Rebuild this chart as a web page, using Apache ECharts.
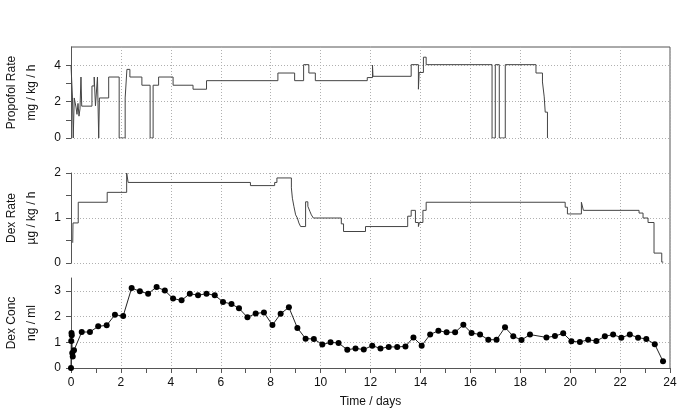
<!DOCTYPE html>
<html><head><meta charset="utf-8">
<script src="https://cdn.jsdelivr.net/npm/echarts@6/dist/echarts.min.js"></script>
<style>html,body{margin:0;padding:0;background:#fff}#c{width:685px;height:411px}</style>
</head><body><div id="c"></div><script>
// ---- data ----
const propofolTime = [0, 0.06, 0.09, 0.13, 0.2, 0.24, 0.28, 0.32, 0.36, 0.4, 0.43, 0.84, 0.93, 0.98, 1.06, 1.11, 1.14, 1.51, 1.93, 2.17, 2.24, 2.36, 2.84, 3.17, 3.29, 3.51, 4.09, 4.89, 5.43, 8.29, 8.96, 9.32, 9.53, 9.79, 11.87, 12.08, 12.1, 13.63, 13.92, 13.95, 14.12, 14.23, 16.87, 17.0, 17.16, 17.4, 18.63, 18.89, 18.96, 19.0, 19.09];
const propofolRate = [4.0, 2.2, 0, 2.2, 1.7, 1.3, 1.9, 1.2, 1.6, 3.35, 1.75, 2.86, 3.35, 1.77, 3.35, 0, 2.2, 3.35, 0, 2.2, 3.77, 3.35, 2.9, 0, 2.9, 3.35, 2.9, 2.68, 3.15, 3.57, 3.15, 4.03, 3.57, 3.15, 3.32, 4.0, 3.39, 4.03, 2.68, 3.6, 4.44, 4.03, 0, 4.03, 0, 4.03, 3.57, 3.08, 2.26, 1.42, 0];

const dexRateTime = [0.07, 0.08, 0.29, 1.45, 2.23, 2.29, 7.19, 8.16, 8.25, 8.83, 8.87, 8.93, 9.0, 9.07, 9.13, 9.2, 9.4, 9.49, 9.57, 9.63, 9.71, 10.83, 10.92, 11.8, 13.49, 13.55, 13.63, 13.8, 13.92, 13.96, 14.1, 14.23, 19.8, 19.89, 19.99, 20.45, 20.53, 22.76, 22.92, 23.12, 23.36, 23.67, 23.73];
const dexRate = [0.45, 0.89, 1.35, 1.57, 2.0, 1.79, 1.72, 1.79, 1.89, 1.67, 1.44, 1.26, 1.07, 1.0, 0.89, 0.81, 1.36, 1.26, 1.15, 1.07, 1.0, 0.87, 0.7, 0.81, 1.04, 1.04, 1.17, 0.9, 0.81, 0.9, 1.17, 1.35, 1.24, 1.09, 1.09, 1.35, 1.17, 1.11, 1.0, 0.9, 0.22, 0.02, 0.02];

const concTime = [0, 0.01, 0.02, 0.03, 0.05, 0.07, 0.12, 0.43, 0.76, 1.09, 1.43, 1.76, 2.09, 2.43, 2.76, 3.09, 3.43, 3.76, 4.09, 4.43, 4.76, 5.09, 5.43, 5.76, 6.09, 6.43, 6.73, 7.07, 7.4, 7.73, 8.07, 8.4, 8.73, 9.07, 9.4, 9.73, 10.07, 10.4, 10.72, 11.07, 11.4, 11.73, 12.07, 12.4, 12.73, 13.07, 13.4, 13.72, 14.05, 14.39, 14.72, 15.05, 15.39, 15.72, 16.05, 16.39, 16.72, 17.05, 17.39, 17.72, 18.05, 18.39, 19.05, 19.39, 19.72, 20.05, 20.39, 20.72, 21.05, 21.39, 21.72, 22.05, 22.39, 22.72, 23.05, 23.39, 23.72];
const dexConc = [0, 1.05, 1.36, 1.27, 0.58, 0.45, 0.69, 1.4, 1.4, 1.62, 1.66, 2.07, 2.02, 3.11, 2.98, 2.89, 3.15, 3.01, 2.7, 2.63, 2.89, 2.83, 2.89, 2.83, 2.57, 2.49, 2.32, 1.97, 2.12, 2.16, 1.67, 2.11, 2.36, 1.56, 1.14, 1.13, 0.91, 1.0, 0.97, 0.71, 0.76, 0.72, 0.87, 0.76, 0.82, 0.82, 0.84, 1.19, 0.87, 1.3, 1.45, 1.39, 1.39, 1.68, 1.36, 1.3, 1.1, 1.1, 1.58, 1.23, 1.09, 1.3, 1.19, 1.24, 1.35, 1.04, 1.01, 1.1, 1.05, 1.23, 1.3, 1.18, 1.3, 1.18, 1.13, 0.92, 0.26];

const xTickLabels = [0, 2, 4, 6, 8, 10, 12, 14, 16, 18, 20, 22, 24];
const panelNames = ['Propofol Rate\nmg / kg / h', 'Dex Rate\nµg / kg / h', 'Dex Conc\nng / ml'];

// ---- layout / style ----
const FONT = '"Liberation Sans", Arial, Helvetica, sans-serif';
const LEFT = 71, RIGHT = 15, W = 685;
const grids = [{top: 47, height: 91}, {top: 173, height: 90}, {top: 278, height: 90}];
const AX = '#555', TXT = '#111', GRID = '#b0b0b0', NONE = 'rgba(0,0,0,0)';
const DOT = [1, 2];

const zip = (a, b) => a.map((v, i) => [v, b[i]]);

function yAxis(gi, max, interval, labelFn, splitColors, showMaxLine, showMaxLabel) {
  return {
    type: 'value', gridIndex: gi, min: 0, max: max, interval: interval,
    name: panelNames[gi], nameLocation: 'middle', nameRotate: 90, nameGap: 29,
    nameTextStyle: {fontFamily: FONT, fontSize: 12, color: TXT, lineHeight: 20},
    axisLine: {show: true, lineStyle: {color: AX, width: 1}},
    axisTick: {show: true, length: 5, lineStyle: {color: AX}},
    axisLabel: {fontFamily: FONT, fontSize: 12, color: TXT, margin: 10, formatter: labelFn, showMaxLabel: showMaxLabel},
    splitLine: {show: true, showMaxLine: showMaxLine, lineStyle: {type: DOT, color: splitColors, width: 1}}
  };
}

function xAxis(gi, visible) {
  return {
    type: 'value', gridIndex: gi, min: 0, max: 24, interval: 2,
    name: visible ? 'Time / days' : '', nameLocation: 'middle', nameGap: 28,
    nameTextStyle: {fontFamily: FONT, fontSize: 12, color: TXT},
    axisLine: {show: visible, onZero: false, lineStyle: {color: AX, width: 1}},
    axisTick: {show: visible, length: 5, lineStyle: {color: AX}},
    minorTick: {show: visible, splitNumber: 2, length: 5, lineStyle: {color: AX}},
    axisLabel: {show: visible, fontFamily: FONT, fontSize: 12, color: TXT, margin: 9,
      formatter: v => xTickLabels.indexOf(v) >= 0 ? String(v) : ''},
    splitLine: {show: true, lineStyle: {type: DOT, color: GRID, width: 1}}
  };
}

const chart = echarts.init(document.getElementById('c'), null, {renderer: 'canvas'});
const plotRight = W - RIGHT;
chart.setOption({
  animation: false,
  backgroundColor: '#fff',
  grid: grids.map(g => ({left: LEFT, right: RIGHT, top: g.top, height: g.height, containLabel: false, outerBoundsMode: 'none'})),
  xAxis: [xAxis(0, false), xAxis(1, false), xAxis(2, true)],
  yAxis: [
    yAxis(0, 5, 1, v => (v % 2 === 0 ? String(v) : ''), [GRID, NONE], true, false),
    yAxis(1, 2, 0.5, v => (Number.isInteger(v) ? String(v) : ''), [GRID, NONE], true, true),
    yAxis(2, 3.5, 1, v => (Number.isInteger(v) ? String(v) : ''), GRID, false, false)
  ],
  graphic: [
    {type: 'line', silent: true, shape: {x1: LEFT, y1: grids[0].top, x2: plotRight, y2: grids[0].top}, style: {stroke: AX, lineWidth: 1}},
    {type: 'line', silent: true, shape: {x1: plotRight, y1: grids[0].top, x2: plotRight, y2: grids[2].top + grids[2].height}, style: {stroke: AX, lineWidth: 1}}
  ],
  series: [
    {type: 'line', xAxisIndex: 0, yAxisIndex: 0, step: 'end', showSymbol: false,
     data: zip(propofolTime, propofolRate), lineStyle: {color: '#444', width: 1}},
    {type: 'line', xAxisIndex: 1, yAxisIndex: 1, step: 'end', showSymbol: false,
     data: zip(dexRateTime, dexRate), lineStyle: {color: '#444', width: 1}},
    {type: 'line', xAxisIndex: 2, yAxisIndex: 2, symbol: 'circle', symbolSize: 6,
     data: zip(concTime, dexConc), lineStyle: {color: '#222', width: 1},
     itemStyle: {color: '#000'}}
  ]
});
</script></body></html>
